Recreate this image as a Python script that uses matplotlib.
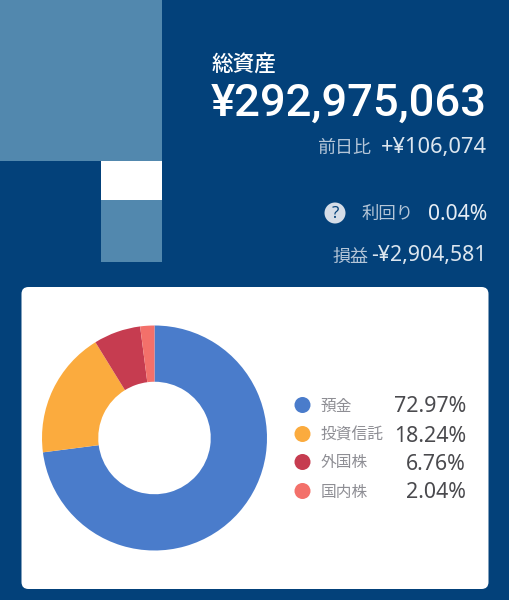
import matplotlib
matplotlib.use('Agg')
import matplotlib.pyplot as plt
from matplotlib.patches import FancyBboxPatch, Rectangle, Circle

CJK_FONT = ['Noto Sans CJK JP', 'DejaVu Sans']
NUMBER_FONT = ['Noto Sans', 'DejaVu Sans']
HEADLINE_FONT = ['Roboto', 'DejaVu Sans']
plt.rcParams['font.family'] = CJK_FONT

WIDTH_PX = 509
HEIGHT_PX = 600

BACKGROUND_COLOUR = '#03417A'
BLOCK_COLOUR = '#5288AE'

categories = ['預金', '投資信託', '外国株', '国内株']
percentages = [72.97, 18.24, 6.76, 2.04]
percent_labels = ['72.97%', '18.24%', '6.76%', '2.04%']
slice_colours = ['#4A7CCB', '#FBAB3E', '#C63C50', '#F3706A']

total_title = '総資産'
total_value = '¥292,975,063'
daily_title = '前日比'
daily_value = '+¥106,074'
yield_title = '利回り'
yield_value = '0.04%'
profit_title = '損益'
profit_value = '-¥2,904,581'

fig = plt.figure(figsize=(WIDTH_PX / 100, HEIGHT_PX / 100), dpi=100,
                 facecolor=BACKGROUND_COLOUR)

# page axes work in pixels, y going down
page = fig.add_axes([0, 0, 1, 1])
page.set_xlim(0, WIDTH_PX)
page.set_ylim(HEIGHT_PX, 0)
page.axis('off')

# blocks in the top left corner
page.add_patch(Rectangle((0, 0), 162, 161, color=BLOCK_COLOUR, lw=0))
page.add_patch(Rectangle((101, 161), 61, 39, color='white', lw=0))
page.add_patch(Rectangle((101, 200), 61, 62, color=BLOCK_COLOUR, lw=0))

# white card behind the donut
page.add_patch(FancyBboxPatch((28, 293.5), 454, 289,
                              boxstyle='round,pad=6.5,rounding_size=7',
                              fc='white', ec='none'))

# header figures
page.text(212, 66, total_title, color='white', fontsize=15.6,
          fontweight='medium', va='center', ha='left')
page.text(487, 104, total_value, color='white', fontsize=32.7,
          family=HEADLINE_FONT, fontweight='medium', va='center', ha='right')

page.text(371, 148, daily_title, color='#B5C6D8', fontsize=13,
          va='center', ha='right')
page.text(487, 148, daily_value, color='#DCE6EF', fontsize=15.7,
          family=NUMBER_FONT, va='center', ha='right')

page.add_patch(Circle((335, 213), 10.5, fc='#D5DDE8', ec='none'))
page.text(335, 214, '?', color=BACKGROUND_COLOUR, fontsize=12,
          family=NUMBER_FONT, fontweight='bold', va='center', ha='center')
page.text(414, 214, yield_title, color='#B5C6D8', fontsize=12.5,
          va='center', ha='right')
page.text(487, 214, yield_value, color='#E6EDF4', fontsize=15.2,
          family=NUMBER_FONT, va='center', ha='right')

page.text(369, 257, profit_title, color='#B5C6D8', fontsize=13,
          va='center', ha='right')
page.text(487, 256, profit_value, color='#DCE6EF', fontsize=15.3,
          family=NUMBER_FONT, va='center', ha='right')

# legend rows
legend_y = [405, 434, 462, 491]
for i in range(len(categories)):
    page.add_patch(Circle((302.5, legend_y[i]), 8, fc=slice_colours[i], ec='none'))
    page.text(321, legend_y[i] + 1, categories[i], color='#8E8E94', fontsize=11.3,
              va='center', ha='left')
    page.text(466, legend_y[i] + 2, percent_labels[i], color='#4A4A4E', fontsize=15.4,
              family=NUMBER_FONT, va='center', ha='right')

# donut gets its own axes so the slices run clockwise from the top
centre_x, centre_y, radius = 154.5, 438, 112.5
donut = fig.add_axes([(centre_x - radius) / WIDTH_PX,
                      1 - (centre_y + radius) / HEIGHT_PX,
                      2 * radius / WIDTH_PX,
                      2 * radius / HEIGHT_PX])
donut.pie(percentages, colors=slice_colours, startangle=90, counterclock=False,
          radius=1, wedgeprops={'width': 0.5, 'linewidth': 0})
donut.set_xlim(-1, 1)
donut.set_ylim(-1, 1)
donut.patch.set_alpha(0)

fig.savefig('out.png', dpi=100, facecolor=fig.get_facecolor())
